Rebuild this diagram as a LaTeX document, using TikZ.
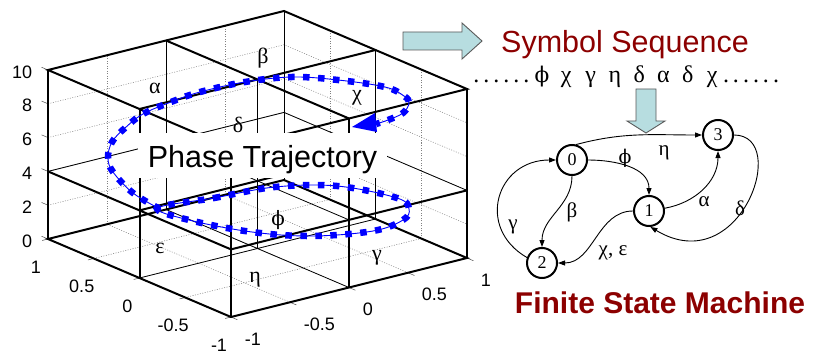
\documentclass[tikz,border=0pt]{standalone}
\usepackage{fontspec}
\setmainfont{Liberation Serif}
\setsansfont{Liberation Sans}
\newfontfamily\phifont{DejaVu Serif}
\usetikzlibrary{arrows.meta,positioning}

\definecolor{darkred}{RGB}{140,0,0}
\definecolor{arrowfill}{RGB}{183,221,224}

\newcommand{\seqdots}{.\kern4pt.\kern4pt.\kern4pt.\kern4pt.\kern4pt.}
\newcommand{\phisym}{{\phifont\scalebox{0.9}{ϕ}}}

\tikzset{every picture/.style={line width=0.9pt}}
\tikzset{
  heavy/.style={line width=2pt},
  light/.style={line width=0.8pt},
  gridline/.style={gray, line width=0.5pt, dash pattern=on 1pt off 1.5pt},
  tickmark/.style={gray!60!black, line width=0.5pt},
  ticklabel/.style={font=\sffamily\fontsize{18}{18}\selectfont},
  cell/.style={font=\fontsize{22}{22}\selectfont},
  traj/.style={blue, line width=6.5pt, dash pattern=on 6.5pt off 8.5pt,
    preaction={draw, blue, line width=0.9pt, solid}},
  blockarrow/.style={draw=gray!70!black, fill=arrowfill, line width=0.9pt},
  seqsym/.style={font=\fontsize{24}{24}\selectfont, anchor=base},
  state/.style={circle, draw, line width=2pt, minimum size=30pt, inner sep=0pt,
    font=\fontsize{18}{18}\selectfont},
  trans/.style={-{Triangle[length=7pt,width=5pt]}, line width=0.9pt},
  translabel/.style={font=\fontsize{21}{21}\selectfont},
  heading/.style={font=\sffamily\fontsize{30.5}{30.5}\selectfont, text=darkred, anchor=base},
}

\begin{document}
\begin{tikzpicture}[x=1pt,y=1pt]
\useasboundingbox (0,0) rectangle (813,354);

% 3d box, x to the right, y to the back left
\begin{scope}[shift={(257.5,105.5)}, x={(118pt,29.5pt)}, y={(-91.5pt,39pt)}, z={(0pt,16.9pt)}]
  \foreach \t in {-1,-0.5,0,0.5,1} {
    \draw[gridline] (\t,-1,0) -- (\t,1,0);
    \draw[gridline] (-1,\t,0) -- (1,\t,0);
    \draw[gridline] (\t,1,0) -- (\t,1,10);
    \draw[gridline] (1,\t,0) -- (1,\t,10);
    \draw[tickmark] (-1,\t,0) -- (-1.05,\t,0);
    \draw[tickmark] (\t,-1,0) -- (\t,-1.07,0);
  }
  \foreach \h in {0,2,...,10} {
    \draw[gridline] (-1,1,\h) -- (1,1,\h) -- (1,-1,\h);
    \draw[tickmark] (-1,1,\h) -- (-1,1.07,\h);
    \node[ticklabel, anchor=east, xshift=-12pt, yshift=-2pt] (zlab\h) at (-1,1,\h) {\h};
  }
  \foreach \t [count=\i] in {1,0.5,0,-0.5,-1}
    \node[ticklabel, xshift=-12pt, yshift=-28pt] (ylab\i) at (-1,\t,0) {\t};
  \foreach \t [count=\i] in {-1,-0.5,0,0.5,1}
    \node[ticklabel, anchor=west, xshift=10pt, yshift=-22pt] (xlab\i) at (\t,-1,0) {\t};

  % cell edges
  \draw[light] (-1,1,4) -- (1,1,4) -- (1,-1,4) (0,-1,4) -- (0,1,4);
  \draw[light] (0,-1,0) -- (0,1,0) (-1,0,0) -- (1,0,0);
  \foreach \a/\b in {0/0,0/1,1/0,1/1}
    \draw[light] (\a,\b,0) -- (\a,\b,10);
  \draw[heavy] (-1,-1,10) -- (1,-1,10) -- (1,1,10) -- (-1,1,10) -- cycle;
  \draw[heavy] (0,-1,10) -- (0,1,10) (-1,0,10) -- (1,0,10);
  \draw[heavy] (-1,1,4) -- (-1,-1,4) -- (1,-1,4) (-1,0,4) -- (1,0,4);
  \draw[heavy] (-1,-1,0) -- (1,-1,0) -- (1,1,0) -- (-1,1,0) -- cycle;
  \foreach \a/\b in {-1/1,-1/0,-1/-1,0/-1,1/-1}
    \draw[heavy] (\a,\b,0) -- (\a,\b,10);
\end{scope}

% trajectory
\draw[traj] plot[smooth cycle, tension=0.6] coordinates {(158,146) (214,156) (275,167) (337,168)
  (397,156) (409,145) (403,134) (373,123) (312,118) (252,122) (189,134)};
\draw[traj] plot[smooth, tension=0.6] coordinates {(160,145) (133,161) (113,182) (108,196) (112,212)
  (125,226) (143,240) (171,252) (200,262) (245,272) (292,277) (338,274) (385,267) (404,258)
  (409,251) (403,241) (388,234) (376,230)};
\fill[blue] (352,227) -- (375,241) -- (377,222) -- cycle;

% symbols of the cells
\node[cell] (calpha) at (155,266) {α};
\node[cell] (cbeta) at (263,296) {β};
\node[cell] (cchi) at (357,256) {χ};
\node[cell] (cdelta) at (238,229) {δ};
\node[cell] (ceps) at (160,106) {ε};
\node[cell] (ceta) at (255,74) {η};
\node[cell] (cphi) at (278,134) {\phisym};
\node[cell] (cgamma) at (377,96) {γ};

\node[fill=white, minimum width=249pt, minimum height=45pt, inner sep=0pt,
  text height=30pt, text depth=7pt, font=\sffamily\fontsize{30.5}{30.5}\selectfont]
  (phase) at (262.5,198.5) {Phase Trajectory};

% symbol sequence
\draw[blockarrow] (403,322) -- (462,322) -- (462,331) -- (482,313) -- (462,295)
  -- (462,304) -- (403,304) -- cycle;
\node[heading] (seqtitle) at (625,301.5) {Symbol Sequence};
\node[seqsym] (dotsl) at (501.3,271) {\seqdots};
\foreach \s [count=\i] in {\phisym,χ,γ,η,δ,α,δ,χ}
  \node[seqsym] (sym\i) at (517.7+24.3*\i,271) {\s};
\node[seqsym] (dotsr) at (751,271) {\seqdots};
\draw[blockarrow] (636,265) -- (656,265) -- (656,233) -- (665,233) -- (646,221)
  -- (627,233) -- (636,233) -- cycle;

% finite state machine
\node[state] (s0) at (572,194) {0};
\node[state] (s1) at (649,143) {1};
\node[state] (s2) at (542,91) {2};
\node[state] (s3) at (718,219) {3};

\draw[trans] (s0.75) to[out=15, in=180] (s3);
\draw[trans] (s0) to[out=0, in=90] (s1);
\draw[trans] (s1) to[out=10, in=-90] (s3);
\draw[trans] (s3.east) .. controls +(57,0) and +(90,-54) .. (s1.-85);
\draw[trans] (s0) to[out=-90, in=90] (s2);
\draw[trans] (s2.160) to[out=150, in=180, looseness=1.5] (s0);
\draw[trans] (s1) to[out=180, in=0] (s2);

\node[translabel] (leta) at (664,201) {η};
\node[translabel] (lphi) at (625,196) {\phisym};
\node[translabel] (lalpha) at (704,152) {α};
\node[translabel] (ldelta) at (740,146) {δ};
\node[translabel] (lbeta) at (572,142) {β};
\node[translabel] (lgamma) at (513,127) {γ};
\node[translabel] (lchieps) at (613,101) {χ, ε};

\node[heading, font=\sffamily\bfseries\fontsize{30}{30}\selectfont] (fsm) at (660,41) {Finite State Machine};
\end{tikzpicture}
\end{document}
